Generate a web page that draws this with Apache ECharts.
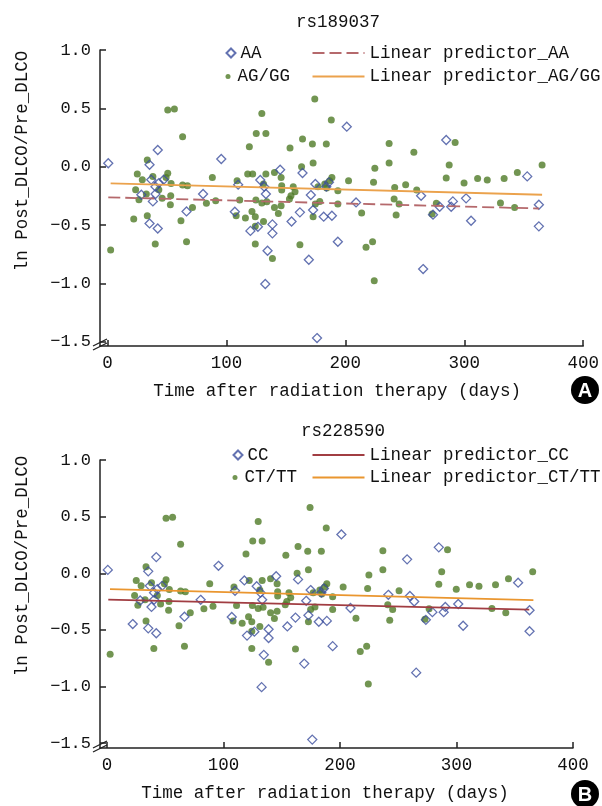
<!DOCTYPE html>
<html><head><meta charset="utf-8">
<script src="https://cdn.jsdelivr.net/npm/echarts@6/dist/echarts.min.js"></script>
<style>html,body{margin:0;padding:0;background:#fff}#c{width:602px;height:806px}</style>
</head><body><div id="c"></div>
<script>
const titleA = 'rs189037';
const titleB = 'rs228590';
const xName = 'Time after radiation therapy (days)';
const yName = 'ln Post_DLCO/Pre_DLCO';
const xTicks = [0, 100, 200, 300, 400];
const yTicks = [-1.5, -1.0, -0.5, 0, 0.5, 1.0];
const yTickLabels = ['\u22121.5', '\u22121.0', '\u22120.5', '0.0', '0.5', '1.0'];

// Panel A: rs189037
const aaPoints = [[0.7,0.03],[42.3,0.143],[35.4,0.017],[95.7,0.066],[36.8,-0.111],[43.2,-0.14],[47.3,-0.111],[40.4,-0.171],[40.4,-0.234],[38.2,-0.297],[28.5,-0.24],[80.4,-0.234],[66.5,-0.383],[35.4,-0.486],[42.3,-0.529],[109.9,-0.154],[128.5,-0.114],[131.8,-0.171],[133.2,-0.234],[107.1,-0.386],[126.5,-0.515],[120.2,-0.55],[201.2,0.343],[145.2,-0.026],[164,-0.054],[174.8,-0.148],[186.2,-0.134],[184,-0.171],[171,-0.243],[209,-0.306],[161.8,-0.391],[172.9,-0.371],[181.8,-0.428],[188.7,-0.42],[154.8,-0.469],[138.7,-0.494],[138.7,-0.571],[263.7,-0.249],[284.8,0.229],[352.9,-0.083],[301.5,-0.271],[279.3,-0.343],[290.4,-0.297],[289,-0.343],[362.7,-0.326],[273.7,-0.411],[305.7,-0.463],[362.7,-0.511],[134.6,-0.72],[132.7,-1.005],[169.3,-0.797],[193.7,-0.643],[176.2,-1.468],[265.4,-0.877]];
const aggPoints = [[50.7,0.486],[56.3,0.494],[129.8,0.457],[63.2,0.257],[125.1,0.285],[133.2,0.285],[119.3,0.171],[33.5,0.057],[25.1,-0.063],[29.3,-0.111],[38.2,-0.083],[49.3,-0.092],[50.7,-0.057],[53.5,-0.143],[43.2,-0.197],[23.7,-0.197],[26.5,-0.283],[32.7,-0.234],[46,-0.271],[53.2,-0.249],[52.9,-0.326],[63.2,-0.157],[67.3,-0.163],[88.2,-0.092],[71.5,-0.349],[83.2,-0.314],[91,-0.291],[22.1,-0.448],[33.5,-0.42],[61.8,-0.463],[109,-0.12],[117.9,-0.063],[122.1,-0.063],[133.2,-0.063],[111.2,-0.285],[124.8,-0.285],[129.8,-0.31],[131.2,-0.148],[121.5,-0.383],[108.2,-0.42],[116,-0.44],[124.3,-0.428],[131.2,-0.469],[124.3,-0.511],[174.3,0.58],[188.2,0.4],[164,0.237],[172.3,0.194],[184,0.194],[153.5,0.16],[172.9,0.031],[163.2,0.0],[236.8,0.2],[257.6,0.123],[236.8,0.031],[224.8,-0.014],[140.4,-0.049],[146,-0.092],[202.7,-0.12],[223.7,-0.134],[188.7,-0.092],[186.8,-0.12],[182.7,-0.148],[177,-0.171],[184.3,-0.183],[193.7,-0.206],[146.5,-0.163],[146.5,-0.2],[156.2,-0.171],[157.7,-0.214],[154.3,-0.249],[153,-0.277],[134,-0.3],[140.4,-0.349],[146,-0.334],[143.7,-0.4],[178.5,-0.297],[174.8,-0.32],[193.7,-0.32],[172.9,-0.428],[213.7,-0.397],[241.5,-0.177],[250.7,-0.154],[260,-0.2],[241,-0.277],[245.2,-0.32],[242.7,-0.414],[292.3,0.208],[287.3,0.014],[365.4,0.014],[284.8,-0.097],[299.8,-0.14],[311.2,-0.1],[319.3,-0.114],[333.5,-0.1],[344.6,-0.049],[276.5,-0.314],[330.4,-0.311],[342.3,-0.349],[272.9,-0.406],[2.7,-0.714],[40.2,-0.663],[66.5,-0.643],[124.3,-0.663],[138.7,-0.786],[161.8,-0.668],[217.4,-0.691],[222.9,-0.643],[224.3,-0.977]];
const aaFit = [[0.7,-0.262],[362.7,-0.358]];
const aggFit = [[2.7,-0.143],[365.4,-0.24]];

// Panel B: rs228590
const ccPoints = [[0.7,0.03],[42.3,0.143],[35.4,0.017],[95.7,0.066],[36.8,-0.111],[43.2,-0.14],[47.3,-0.111],[40.4,-0.171],[40.4,-0.234],[38.2,-0.297],[28.5,-0.24],[80.4,-0.234],[66.5,-0.383],[35.4,-0.486],[42.3,-0.529],[109.9,-0.154],[128.5,-0.114],[131.8,-0.171],[133.2,-0.234],[107.1,-0.386],[126.5,-0.515],[120.2,-0.55],[201.2,0.343],[145.2,-0.026],[164,-0.054],[174.8,-0.148],[186.2,-0.134],[184,-0.171],[171,-0.243],[209,-0.306],[161.8,-0.391],[172.9,-0.371],[181.8,-0.428],[188.7,-0.42],[154.8,-0.469],[138.7,-0.494],[138.7,-0.571],[263.7,-0.249],[284.8,0.229],[352.9,-0.083],[301.5,-0.271],[279.3,-0.343],[290.4,-0.297],[289,-0.343],[362.7,-0.326],[273.7,-0.411],[305.7,-0.463],[362.7,-0.511],[134.6,-0.72],[132.7,-1.005],[169.3,-0.797],[193.7,-0.643],[176.2,-1.468],[265.4,-0.877],[22.1,-0.448],[117.9,-0.063],[257.6,0.123],[241.5,-0.19],[260,-0.2]];
const cttPoints = [[50.7,0.486],[56.3,0.494],[129.8,0.457],[63.2,0.257],[125.1,0.285],[133.2,0.285],[119.3,0.171],[33.5,0.057],[25.1,-0.063],[29.3,-0.111],[38.2,-0.083],[49.3,-0.092],[50.7,-0.057],[53.5,-0.143],[43.2,-0.197],[23.7,-0.197],[26.5,-0.283],[32.7,-0.234],[46,-0.271],[53.2,-0.249],[52.9,-0.326],[63.2,-0.157],[67.3,-0.163],[88.2,-0.092],[71.5,-0.349],[83.2,-0.314],[91,-0.291],[33.5,-0.42],[61.8,-0.463],[109,-0.12],[122.1,-0.063],[133.2,-0.063],[111.2,-0.285],[124.8,-0.285],[129.8,-0.31],[131.2,-0.148],[121.5,-0.383],[108.2,-0.42],[116,-0.44],[124.3,-0.428],[131.2,-0.469],[124.3,-0.511],[174.3,0.58],[188.2,0.4],[164,0.237],[172.3,0.194],[184,0.194],[153.5,0.16],[172.9,0.031],[163.2,0.0],[236.8,0.2],[236.8,0.031],[224.8,-0.014],[140.4,-0.049],[146,-0.092],[202.7,-0.12],[223.7,-0.134],[188.7,-0.092],[186.8,-0.12],[182.7,-0.148],[177,-0.171],[184.3,-0.183],[193.7,-0.206],[146.5,-0.163],[146.5,-0.2],[156.2,-0.171],[157.7,-0.214],[154.3,-0.249],[153,-0.277],[134,-0.3],[140.4,-0.349],[146,-0.334],[143.7,-0.4],[178.5,-0.297],[174.8,-0.32],[193.7,-0.32],[172.9,-0.428],[213.7,-0.397],[250.7,-0.154],[241,-0.277],[245.2,-0.32],[242.7,-0.414],[292.3,0.208],[287.3,0.014],[365.4,0.014],[284.8,-0.097],[299.8,-0.14],[311.2,-0.1],[319.3,-0.114],[333.5,-0.1],[344.6,-0.049],[276.5,-0.314],[330.4,-0.311],[342.3,-0.349],[272.9,-0.406],[2.7,-0.714],[40.2,-0.663],[66.5,-0.643],[124.3,-0.663],[138.7,-0.786],[161.8,-0.668],[217.4,-0.691],[222.9,-0.643],[224.3,-0.977]];
const ccFit = [[1.1,-0.233],[362.5,-0.321]];
const cttFit = [[2.6,-0.139],[366,-0.236]];

const FONT = "'Liberation Mono', 'DejaVu Sans Mono', monospace";
const TXT = '#111';
const AXC = '#222';
const BLUE = '#3c4f9e';
const GREEN = '#4f7b27';

function mkX(i, min, padR) {
  return {
    type: 'value', gridIndex: i, min: min, max: 400,
    splitLine: { show: false },
    axisLine: { onZero: false, lineStyle: { color: AXC, width: 1.5 } },
    axisTick: { inside: true, length: 6, customValues: xTicks, lineStyle: { color: AXC, width: 1.5 } },
    axisLabel: { customValues: xTicks, margin: 8, fontFamily: FONT, fontSize: 17.5, color: TXT },
    name: xName, nameLocation: 'middle', nameGap: 36,
    nameTextStyle: { fontFamily: FONT, fontSize: 17.5, color: TXT, padding: [0, padR, 0, 0] }
  };
}
function mkY(i, min) {
  return {
    type: 'value', gridIndex: i, min: min, max: 1.0,
    splitLine: { show: false },
    axisLine: { show: true, onZero: false, lineStyle: { color: AXC, width: 1.5 } },
    axisTick: { show: true, inside: true, length: 6, customValues: yTicks, lineStyle: { color: AXC, width: 1.5 } },
    axisLabel: {
      customValues: yTicks, margin: 9, fontFamily: FONT, fontSize: 17, color: TXT,
      formatter: v => { const k = yTicks.findIndex(t => Math.abs(t - v) < 1e-9); return k >= 0 ? yTickLabels[k] : ''; }
    }
  };
}
function mkLegend(name, left, top, w, h, isLine) {
  const lg = {
    data: [name], left: left, top: top, padding: 0, itemWidth: w, itemHeight: h,
    selectedMode: false, itemGap: 0,
    textStyle: { fontFamily: FONT, fontSize: 17.5, color: TXT, lineHeight: 18 }
  };
  if (isLine) lg.itemStyle = { opacity: 0 };
  return lg;
}
function scatterDiamond(name, data, i) {
  return { name: name, type: 'scatter', xAxisIndex: i, yAxisIndex: i, data: data,
    symbol: 'diamond', symbolSize: 9,
    itemStyle: { color: 'rgba(255,255,255,0)', borderColor: BLUE, borderWidth: 1.3 }, z: 3 };
}
function scatterDot(name, data, i) {
  return { name: name, type: 'scatter', xAxisIndex: i, yAxisIndex: i, data: data,
    symbol: 'circle', symbolSize: 7, itemStyle: { color: GREEN }, z: 2 };
}
function fitLine(name, data, i, color, type) {
  return { name: name, type: 'line', xAxisIndex: i, yAxisIndex: i, data: data,
    symbol: 'none', lineStyle: { color: color, width: 1.8, type: type }, itemStyle: { color: color }, z: 4 };
}

const option = {
  animation: false,
  backgroundColor: '#fff',
  title: [
    { text: titleA, left: 296, top: 13, padding: 0, textStyle: { fontFamily: FONT, fontSize: 17.5, fontWeight: 'normal', color: TXT } },
    { text: titleB, left: 301, top: 422, padding: 0, textStyle: { fontFamily: FONT, fontSize: 17.5, fontWeight: 'normal', color: TXT } }
  ],
  legend: [
    mkLegend('AA', 225.5, 44, 9, 9, false),
    mkLegend('AG/GG', 225.5, 67.5, 9, 5, false),
    mkLegend('Linear predictor_AA', 311.5, 44, 52, 12, true),
    mkLegend('Linear predictor_AG/GG', 311.5, 67.5, 52, 12, true),
    mkLegend('CC', 232.5, 446, 9, 9, false),
    mkLegend('CT/TT', 232.5, 468.5, 9, 5, false),
    mkLegend('Linear predictor_CC', 311.5, 446, 52, 12, true),
    mkLegend('Linear predictor_CT/TT', 311.5, 468.5, 52, 12, true)
  ],
  grid: [
    { left: 100, top: 50, width: 487.2, height: 296 },
    { left: 100, top: 460, width: 473, height: 288 }
  ],
  xAxis: [mkX(0, -6.25, 9), mkX(1, -6, 23)],
  yAxis: [mkY(0, -1.536), mkY(1, -1.542)],
  series: [
    scatterDiamond('AA', aaPoints, 0),
    scatterDot('AG/GG', aggPoints, 0),
    fitLine('Linear predictor_AA', aaFit, 0, '#b5696c', [12, 5]),
    fitLine('Linear predictor_AG/GG', aggFit, 0, '#eba24c', 'solid'),
    scatterDiamond('CC', ccPoints, 1),
    scatterDot('CT/TT', cttPoints, 1),
    fitLine('Linear predictor_CC', ccFit, 1, '#a13d42', 'solid'),
    fitLine('Linear predictor_CT/TT', cttFit, 1, '#ea962f', 'solid')
  ],
  graphic: [
    { type: 'text', x: 22, y: 161, rotation: Math.PI / 2, style: { text: yName, font: "17.5px 'Liberation Mono'", fill: TXT, textAlign: 'center', textVerticalAlign: 'middle' } },
    { type: 'text', x: 22, y: 566, rotation: Math.PI / 2, style: { text: yName, font: "17.5px 'Liberation Mono'", fill: TXT, textAlign: 'center', textVerticalAlign: 'middle' } },
    { type: 'polyline', shape: { points: [[93, 346], [107, 339]] }, style: { stroke: AXC, lineWidth: 1.3 } },
    { type: 'polyline', shape: { points: [[93, 350], [107, 343]] }, style: { stroke: AXC, lineWidth: 1.3 } },
    { type: 'polyline', shape: { points: [[93, 748], [107, 741]] }, style: { stroke: AXC, lineWidth: 1.3 } },
    { type: 'polyline', shape: { points: [[93, 752], [107, 745]] }, style: { stroke: AXC, lineWidth: 1.3 } },
    { type: 'circle', shape: { cx: 585, cy: 390, r: 14 }, style: { fill: '#000' } },
    { type: 'text', x: 585, y: 391, style: { text: 'A', font: "bold 20px 'Liberation Sans'", fill: '#fff', textAlign: 'center', textVerticalAlign: 'middle' } },
    { type: 'circle', shape: { cx: 585, cy: 794, r: 14 }, style: { fill: '#000' } },
    { type: 'text', x: 585, y: 795, style: { text: 'B', font: "bold 20px 'Liberation Sans'", fill: '#fff', textAlign: 'center', textVerticalAlign: 'middle' } }
  ]
};
const chart = echarts.init(document.getElementById('c'), null, { renderer: 'canvas' });
chart.setOption(option);
</script></body></html>
